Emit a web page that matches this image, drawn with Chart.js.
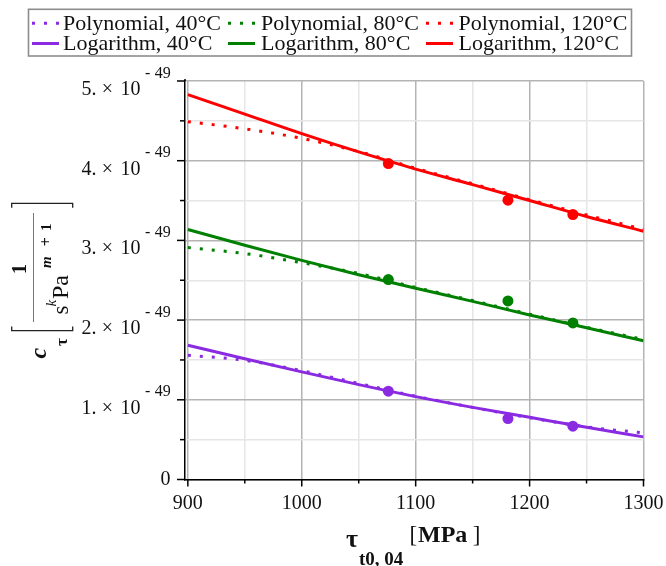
<!DOCTYPE html>
<html><head><meta charset="utf-8">
<script src="https://cdn.jsdelivr.net/npm/chart.js@4"></script>
<style>html,body{margin:0;padding:0;background:#fff}canvas{display:block}</style>
</head><body>
<canvas id="c" width="666" height="566"></canvas>
<script>
// ---- data (c_tau in units of 10^-49) ----
const tauFit = [900, 950, 1000, 1050, 1100, 1150, 1200, 1250, 1300];
const poly40  = [1.56, 1.495, 1.365, 1.205, 1.045, 0.905, 0.775, 0.66, 0.585];
const poly80  = [2.91, 2.835, 2.72, 2.585, 2.41, 2.245, 2.075, 1.91, 1.757];
const poly120 = [4.49, 4.40, 4.28, 4.115, 3.905, 3.71, 3.51, 3.32, 3.14];
const log40   = [1.685, 1.515, 1.35, 1.19, 1.04, 0.905, 0.78, 0.655, 0.535];
const log80   = [3.137, 2.94, 2.75, 2.57, 2.40, 2.235, 2.065, 1.905, 1.74];
const log120  = [4.83, 4.585, 4.34, 4.11, 3.895, 3.70, 3.50, 3.30, 3.115];
const tauMeasured = [1076, 1181, 1238];
const meas40  = [1.108, 0.765, 0.669];
const meas80  = [2.509, 2.241, 1.965];
const meas120 = [3.965, 3.504, 3.325];
const xTickValues = [900, 950, 1000, 1050, 1100, 1150, 1200, 1250, 1300];
const yTickValues = [0, 0.5, 1, 1.5, 2, 2.5, 3, 3.5, 4, 4.5, 5];
const yExponent = '49';
const legendNames = ['Polynomial, 40°C', 'Polynomial, 80°C', 'Polynomial, 120°C',
                     'Logarithm, 40°C', 'Logarithm, 80°C', 'Logarithm, 120°C'];

const PURPLE = '#8a2be2', GREEN = '#008000', RED = '#ff0000';
const SERIF = '"Liberation Serif", "Times New Roman", serif';
const MAJOR = '#b4b4b4', MINOR = '#e6e6e6';

const toXY = (xs, ys) => xs.map((x, i) => ({x, y: ys[i]}));
const polyStyle = c => ({borderColor: c, backgroundColor: c, borderWidth: 3, borderDash: [3, 9],
  borderCapStyle: 'butt', pointRadius: 0, cubicInterpolationMode: 'monotone', order: 2});
const logStyle = c => ({borderColor: c, backgroundColor: c, borderWidth: 3,
  pointRadius: 0, cubicInterpolationMode: 'monotone', order: 1});
const ptStyle = c => ({borderColor: c, backgroundColor: c, pointBackgroundColor: c, pointBorderWidth: 0,
  pointRadius: 5.5, pointHoverRadius: 5.5, showLine: false, order: 0});

const datasets = [
  Object.assign({label: legendNames[0], data: toXY(tauFit, poly40)}, polyStyle(PURPLE)),
  Object.assign({label: legendNames[1], data: toXY(tauFit, poly80)}, polyStyle(GREEN)),
  Object.assign({label: legendNames[2], data: toXY(tauFit, poly120)}, polyStyle(RED)),
  Object.assign({label: legendNames[3], data: toXY(tauFit, log40)}, logStyle(PURPLE)),
  Object.assign({label: legendNames[4], data: toXY(tauFit, log80)}, logStyle(GREEN)),
  Object.assign({label: legendNames[5], data: toXY(tauFit, log120)}, logStyle(RED)),
  Object.assign({label: 'data 40', data: toXY(tauMeasured, meas40)}, ptStyle(PURPLE)),
  Object.assign({label: 'data 80', data: toXY(tauMeasured, meas80)}, ptStyle(GREEN)),
  Object.assign({label: 'data 120', data: toXY(tauMeasured, meas120)}, ptStyle(RED))
];

function rotText(ctx, str, font, xBase, yPos, align) {
  ctx.save();
  ctx.translate(xBase, yPos);
  ctx.rotate(-Math.PI / 2);
  ctx.font = font;
  ctx.textAlign = align || 'left';
  ctx.textBaseline = 'alphabetic';
  ctx.fillText(str, 0, 0);
  ctx.restore();
}

const decor = {
  id: 'decor',
  afterDraw(chart) {
    const {ctx, chartArea: a, scales: {x, y}} = chart;
    ctx.save();
    // tick marks
    ctx.strokeStyle = '#000';
    ctx.lineWidth = 1.5;
    ctx.beginPath(); ctx.moveTo(a.left, a.top - 2); ctx.lineTo(a.left, a.top); ctx.stroke();
    yTickValues.forEach(v => {
      const py = y.getPixelForValue(v);
      const len = Number.isInteger(v) ? 8 : 5;
      ctx.beginPath(); ctx.moveTo(a.left - len, py); ctx.lineTo(a.left, py); ctx.stroke();
    });
    xTickValues.forEach(v => {
      const px = x.getPixelForValue(v);
      const len = v % 100 === 0 ? 7 : 4;
      ctx.beginPath(); ctx.moveTo(px, a.bottom); ctx.lineTo(px, a.bottom + len); ctx.stroke();
    });
    // y tick labels
    ctx.fillStyle = '#111';
    ctx.textBaseline = 'alphabetic';
    yTickValues.filter(v => Number.isInteger(v)).forEach(v => {
      const py = y.getPixelForValue(v);
      if (v === 0) {
        ctx.font = '20px ' + SERIF; ctx.textAlign = 'right'; ctx.textBaseline = 'middle';
        ctx.fillText('0', 170.5, py);
        ctx.textBaseline = 'alphabetic';
        return;
      }
      ctx.font = '20px ' + SERIF;
      ctx.textAlign = 'right'; ctx.fillText(v + '.', 96.5, py + 14);
      ctx.textAlign = 'center'; ctx.fillText('×', 107.5, py + 14);
      ctx.textAlign = 'right'; ctx.fillText('10', 140.5, py + 14);
      ctx.font = '16px ' + SERIF;
      ctx.textAlign = 'center'; ctx.fillText('-', 147.7, py - 3.5);
      ctx.textAlign = 'right'; ctx.fillText(yExponent, 170.8, py - 3.5);
    });
    // x axis title
    ctx.textAlign = 'left';
    ctx.font = 'bold 26px ' + SERIF; ctx.fillText('τ', 346, 546.5);
    ctx.font = 'bold 19px ' + SERIF; ctx.fillText('t0, 04', 359, 565);
    ctx.font = '23px ' + SERIF; ctx.fillText('[', 409.5, 541.5);
    ctx.font = 'bold 24px ' + SERIF; ctx.fillText('MPa', 418, 541.7);
    ctx.font = '23px ' + SERIF; ctx.textAlign = 'right'; ctx.fillText(']', 480.5, 541.5);
    // y axis title (rotated)
    rotText(ctx, 'c', 'italic bold 24px ' + SERIF, 45.5, 358.5);
    rotText(ctx, 'τ', 'bold 17px ' + SERIF, 67, 346);
    rotText(ctx, '1', 'bold 20px ' + SERIF, 26, 269, 'center');
    rotText(ctx, 's', '23px ' + SERIF, 68, 314.5);
    rotText(ctx, 'k', 'italic 15px ' + SERIF, 55.5, 306.5);
    rotText(ctx, 'Pa', '24px ' + SERIF, 68, 299);
    rotText(ctx, 'm', 'italic bold 15px ' + SERIF, 51, 268);
    rotText(ctx, '+', 'bold 16px ' + SERIF, 51, 241.7, 'center');
    rotText(ctx, '1', 'bold 15px ' + SERIF, 51, 231);
    ctx.strokeStyle = '#222'; ctx.lineWidth = 1.3;
    ctx.beginPath(); // [
    ctx.moveTo(11.7, 326.5); ctx.lineTo(11.7, 330.7); ctx.lineTo(72.7, 330.7); ctx.lineTo(72.7, 326.5);
    ctx.stroke();
    ctx.beginPath(); // ]
    ctx.moveTo(11.7, 207.7); ctx.lineTo(11.7, 203.3); ctx.lineTo(72.7, 203.3); ctx.lineTo(72.7, 207.7);
    ctx.stroke();
    ctx.strokeStyle = '#777'; ctx.lineWidth = 1;
    ctx.beginPath(); ctx.moveTo(33.5, 213); ctx.lineTo(33.5, 322); ctx.stroke();
    // legend
    ctx.strokeStyle = '#8c8c8c'; ctx.lineWidth = 1.6;
    ctx.strokeRect(28.5, 9.3, 603, 46.7);
    const sampleX = [32, 228, 426], textX = [63, 261, 458.5];
    const sampleY = [23.3, 43.5], baseY = [29.5, 50.2];
    for (let i = 0; i < 6; i++) {
      const col = i % 3, row = Math.floor(i / 3), ds = chart.data.datasets[i];
      ctx.strokeStyle = ds.borderColor; ctx.lineWidth = 3;
      ctx.setLineDash(ds.borderDash || []); ctx.lineCap = 'butt';
      ctx.beginPath(); ctx.moveTo(sampleX[col], sampleY[row]); ctx.lineTo(sampleX[col] + 27, sampleY[row]); ctx.stroke();
      ctx.setLineDash([]);
      ctx.fillStyle = '#111'; ctx.font = '22px ' + SERIF; ctx.textAlign = 'left';
      ctx.fillText(ds.label, textX[col], baseY[row]);
    }
    ctx.restore();
  }
};

new Chart(document.getElementById('c'), {
  type: 'line',
  data: {datasets},
  options: {
    responsive: false,
    animation: false,
    events: [],
    layout: {padding: {left: 0, right: 22.5, top: 81, bottom: 0}},
    plugins: {legend: {display: false}, tooltip: {enabled: false}},
    scales: {
      x: {
        type: 'linear', min: 897.5, max: 1300,
        afterBuildTicks: s => { s.ticks = xTickValues.map(v => ({value: v})); },
        afterFit: s => { s.height = 86.5; s.paddingLeft = 0; s.paddingRight = 0; },
        ticks: {autoSkip: false, maxRotation: 0, padding: 12, color: '#111',
          font: {family: SERIF, size: 20},
          callback: v => (v % 100 === 0 ? String(v) : '')},
        grid: {drawTicks: false, lineWidth: 1.5,
          color: c => (c.tick && c.tick.value % 100 === 0 ? MAJOR : MINOR)},
        border: {display: true, color: '#000', width: 1.5}
      },
      y: {
        type: 'linear', min: 0, max: 5,
        afterBuildTicks: s => { s.ticks = yTickValues.map(v => ({value: v})); },
        afterFit: s => { s.width = 185; s.paddingTop = 0; s.paddingBottom = 0; },
        ticks: {display: false},
        grid: {drawTicks: false, lineWidth: 1.5,
          color: c => (c.tick && Number.isInteger(c.tick.value) ? MAJOR : MINOR)},
        border: {display: true, color: '#000', width: 1.5}
      }
    }
  },
  plugins: [decor]
});
</script>
</body></html>
